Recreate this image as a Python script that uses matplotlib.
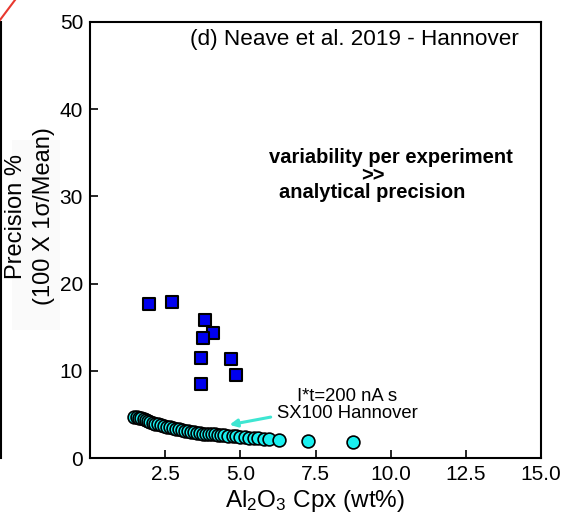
"""
Precision vs Al2O3 in Cpx - panel (d), Neave et al. 2019 - Hannover
"""
import matplotlib
matplotlib.use('Agg')
import matplotlib.pyplot as plt
from matplotlib.lines import Line2D
from matplotlib.patches import Rectangle

plt.rcParams['font.family'] = ['Liberation Sans', 'DejaVu Sans']
plt.rcParams['mathtext.fontset'] = 'custom'
plt.rcParams['mathtext.rm'] = 'Liberation Sans'
plt.rcParams['mathtext.default'] = 'regular'

# Per-experiment variability (blue squares)
exp_al2o3 = [1.97, 2.73, 3.83, 4.10, 3.77, 3.70, 4.70, 4.87, 3.70]
exp_precision = [17.7, 17.9, 15.8, 14.3, 13.8, 11.5, 11.4, 9.5, 8.5]

# Analytical precision, SX100 Hannover (cyan circles)
ana_al2o3 = [1.45, 1.55, 1.62, 1.70, 1.78, 1.85, 1.92, 2.00, 2.08, 2.15,
             2.25, 2.35, 2.45, 2.55, 2.65, 2.75, 2.85, 2.95, 3.05, 3.15,
             3.25, 3.35, 3.45, 3.55, 3.65, 3.75, 3.85, 3.95, 4.05, 4.15,
             4.25, 4.35, 4.45, 4.60, 4.75, 4.85, 5.00, 5.15, 5.30, 5.45,
             5.60, 5.80, 5.95, 6.30, 7.25, 8.75]
ana_precision = [4.75, 4.70, 4.60, 4.55, 4.45, 4.35, 4.25, 4.15, 4.05, 3.95,
                 3.85, 3.75, 3.65, 3.55, 3.50, 3.42, 3.35, 3.28, 3.20, 3.12,
                 3.05, 3.00, 2.95, 2.90, 2.85, 2.80, 2.78, 2.75, 2.72, 2.70,
                 2.68, 2.65, 2.62, 2.58, 2.52, 2.50, 2.45, 2.40, 2.35, 2.30,
                 2.27, 2.22, 2.18, 2.10, 1.95, 1.80]

x_ticks = [2.5, 5.0, 7.5, 10.0, 12.5, 15.0]
y_ticks = [0, 10, 20, 30, 40, 50]

fig = plt.figure(figsize=(5.65, 5.2), dpi=100)
ax = fig.add_axes([90 / 565, 62 / 520, 451 / 565, 436 / 520])

ax.scatter(exp_al2o3, exp_precision, marker='s', s=80, facecolor='#0000ee',
           edgecolor='black', linewidth=1.5, zorder=3)
ax.scatter(ana_al2o3, ana_precision, marker='o', s=85, facecolor='#1af0f0',
           edgecolor='black', linewidth=1.2, zorder=3)

ax.set_xlim(0, 15)
ax.set_ylim(0, 50)
ax.set_xticks(x_ticks)
ax.set_xticklabels([f'{t:.1f}' for t in x_ticks])
ax.set_yticks(y_ticks)
ax.tick_params(direction='in', length=6, width=1.2, labelsize=15, pad=5)
for sp in ax.spines.values():
    sp.set_linewidth(1.5)

ax.set_xlabel('Al$_2$O$_3$ Cpx (wt%)', fontsize=17.5, labelpad=3)

# y label as two centred lines, placed like the original panel
fig.patches.append(Rectangle((12 / 565, 1 - 330 / 520), 48 / 565, 190 / 520,
                             transform=fig.transFigure, facecolor='#fafafa',
                             edgecolor='none', zorder=0))
fig.text(30 / 565, 1 - 216 / 520, 'Precision %\n(100 X 1σ/Mean)', rotation=90,
         ha='center', va='center', multialignment='center', fontsize=17,
         linespacing=1.35)

ax.text(0.95, 0.985, '(d) Neave et al. 2019 - Hannover', transform=ax.transAxes,
        ha='right', va='top', fontsize=16.2)

ax.text(10.0, 34.5, 'variability per experiment', ha='center', va='center',
        fontsize=14.5, fontweight='bold')
ax.text(9.4, 32.4, '>>', ha='center', va='center', fontsize=14.5, fontweight='bold')
ax.text(9.4, 30.4, 'analytical precision', ha='center', va='center',
        fontsize=14.5, fontweight='bold')

ax.annotate('I*t=200 nA s\nSX100 Hannover', xy=(4.55, 3.75), xytext=(8.55, 6.1),
            ha='center', va='center', fontsize=13.3, linespacing=1.0)
ax.annotate('', xy=(4.55, 3.75), xytext=(6.1, 4.75),
            arrowprops=dict(arrowstyle='-|>', color='#3ee6d2', lw=2.2,
                            mutation_scale=11))

# fragments of neighbouring panels at the crop edge
fig.add_artist(Line2D([1 / 565, 1 / 565], [1 - 22 / 520, 1 - 458 / 520],
                      transform=fig.transFigure, color='black', lw=1.5))
fig.add_artist(Line2D([0, 15 / 565], [1 - 20 / 520, 1], transform=fig.transFigure,
                      color='#e8392f', lw=1.5))

plt.savefig('out.png', dpi=100, facecolor='white')
plt.close()
